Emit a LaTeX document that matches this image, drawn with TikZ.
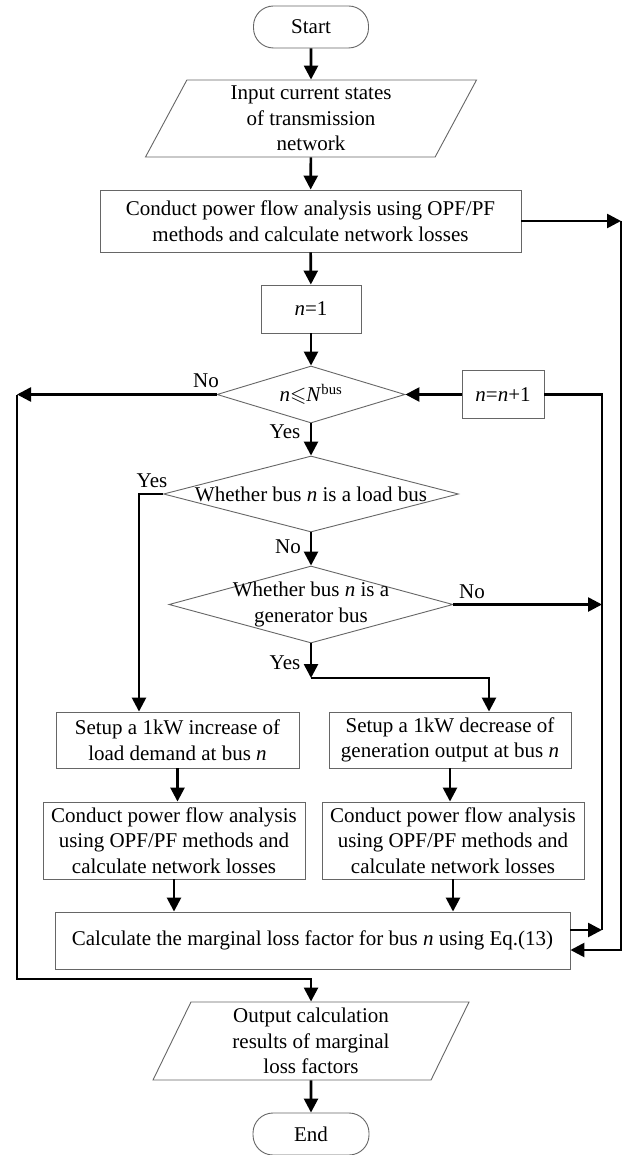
\documentclass[tikz,border=0pt]{standalone}
\usepackage{fontspec}
\setmainfont{Liberation Serif}
\usepackage{amssymb}
\usetikzlibrary{shapes.geometric,arrows.meta}
\begin{document}
\begin{tikzpicture}[x=1pt,y=-1pt,
  every node/.style={font=\fontsize{21}{25.5}\selectfont},
  shapeline/.style={draw=black!60, line width=0.9pt},
  box/.style={shapeline, rectangle, inner sep=0pt, align=center},
  term/.style={box, rounded corners=20pt},
  io/.style={shapeline, trapezium, trapezium stretches body, inner sep=0pt, align=center},
  dia/.style={shapeline, diamond, inner sep=0pt},
  txt/.style={inner sep=0pt, align=center},
  lab/.style={inner sep=0pt},
  conn/.style={line width=2.6pt, black, sharp corners},
  arr/.style={conn, -{Triangle[length=14pt,width=14pt]}},
]
\fill[white] (0,0) rectangle (624,1155);
\useasboundingbox (0,0) rectangle (624,1155);

% nodes
\node[term, minimum width=115pt, minimum height=42pt] (start) at (311,27) {Start};
\node[io, trapezium left angle=57.5, trapezium right angle=122.5, minimum width=331pt, minimum height=77pt] (in) at (311,118.5) {Input current states\\of transmission\\network};
\node[box, minimum width=421pt, minimum height=62pt] (box1) at (310.5,221) {Conduct power flow analysis using OPF/PF\\methods and calculate network losses};
\node[box, minimum width=100pt, minimum height=48pt] (n1) at (311,309) {\textit{n}=1};
\node[dia, minimum width=188pt, minimum height=57pt] (d1) at (311,394.5) {};
\node[txt] (d1t) at (d1.center) {\textit{n}$\leqslant$\textit{N}\textsuperscript{bus}};
\node[box, minimum width=82pt, minimum height=48pt] (n2) at (503,394.5) {\textit{n}=\textit{n}+1};
\node[dia, minimum width=295pt, minimum height=76pt] (d2) at (311,494) {};
\node[txt] (d2t) at (d2.center) {Whether bus \textit{n} is a load bus};
\node[dia, minimum width=284pt, minimum height=77pt] (d3) at (311,604.5) {};
\node[txt] (d3t) at (d3.center) {Whether bus \textit{n} is a\\generator bus};
\node[box, minimum width=243pt, minimum height=56pt] (lb) at (177.5,740) {Setup a 1kW increase of\\load demand at bus \textit{n}};
\node[box, minimum width=242pt, minimum height=56pt] (rb) at (450,740) {Setup a 1kW decrease of\\generation output at bus \textit{n}};
\node[box, minimum width=262pt, minimum height=77pt] (lc) at (174,840.5) {Conduct power flow analysis\\using OPF/PF methods and\\calculate network losses};
\node[box, minimum width=262pt, minimum height=77pt] (rc) at (453,840.5) {Conduct power flow analysis\\using OPF/PF methods and\\calculate network losses};
\node[box, minimum width=515pt, minimum height=57pt] (calc) at (312.5,940.5) {Calculate the marginal loss factor for bus \textit{n} using Eq.(13)};
\node[io, trapezium left angle=60, trapezium right angle=120, minimum width=316pt, minimum height=78pt] (out) at (311,1041) {Output calculation\\results of marginal\\loss factors};
\node[term, minimum width=116pt, minimum height=42pt] (end) at (311,1134) {End};

% labels
\node[lab] (l1) at (206,381) {No};
\node[lab] (l2) at (285,432) {Yes};
\node[lab] (l3) at (152,481) {Yes};
\node[lab] (l4) at (288,547) {No};
\node[lab] (l5) at (472,592) {No};
\node[lab] (l6) at (285,663) {Yes};

% bend points
\coordinate (cR1) at (621,221);
\coordinate (cR2) at (621,950);
\coordinate (cM1) at (602,394.5);
\coordinate (cM2) at (602,930);
\coordinate (cM3) at (602,604.5);
\coordinate (cL1) at (17,394.5);
\coordinate (cL2) at (17,979);
\coordinate (cY) at (139,494);
\coordinate (cG) at (311,678);
\coordinate (cH) at (489,678);

% connectors
\draw[arr] (start) -- (in);
\draw[arr] (in) -- (box1);
\draw[arr] (box1) -- (n1);
\draw[arr] (n1) -- (d1);
\draw[arr] (box1.east) -- (cR1);
\draw[arr] (cR1) -- (cR2) -- ([yshift=-9.5pt]calc.east);
\draw[arr] (d1.west) -- (cL1);
\draw[arr] (cL1) -- (cL2) -| (out.north);
\draw[arr] (n2.west) -- (d1.east);
\draw[conn] (n2.east) -- (cM1) -- (cM2);
\draw[arr] ([yshift=10.5pt]calc.east) -- (cM2);
\draw[arr] (d3.east) -- (cM3);
\draw[arr] (d1.south) -- (d2.north);
\draw[arr] (d2.west) -- (cY) -- (cY |- lb.north);
\draw[arr] (d2.south) -- (d3.north);
\draw[arr] (d3.south) -- (cG);
\draw[arr] (cG) -- (cH) -- (cH |- rb.north);
\draw[arr] (lb.south) -- (lb.south |- lc.north);
\draw[arr] (rb.south) -- (rb.south |- rc.north);
\draw[arr] (lc.south) -- (lc.south |- calc.north);
\draw[arr] (rc.south) -- (rc.south |- calc.north);
\draw[arr] (out) -- (end);
\end{tikzpicture}
\end{document}
